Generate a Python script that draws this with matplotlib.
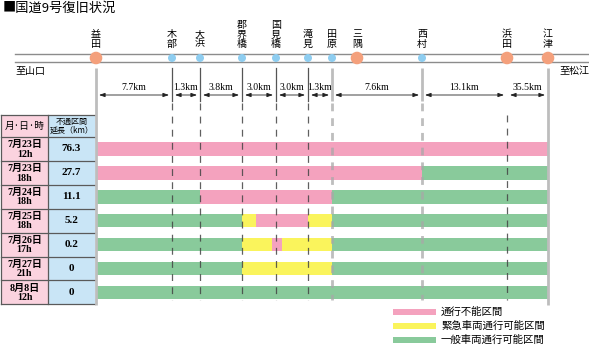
import matplotlib
matplotlib.use("Agg")
import matplotlib.pyplot as plt
from matplotlib.patches import Circle, Rectangle

plt.rcParams['font.family'] = ['Noto Sans CJK JP', 'DejaVu Sans']

# ---------------- data ----------------
title = "■国道9号復旧状況"
stations = ['益田', '木部', '大浜', '郡界橋', '国見橋', '滝見', '田原', '三隅', '西村', '浜田', '江津']
station_x = [96, 172, 200, 242, 276, 308, 332, 357, 422, 507, 548]
major = ['益田', '三隅', '浜田', '江津']

dist_from = ['益田', '木部', '大浜', '郡界橋', '国見橋', '滝見', '田原', '西村', '浜田']
dist_to = ['木部', '大浜', '郡界橋', '国見橋', '滝見', '田原', '西村', '浜田', '江津']
dist_km = [7.7, 1.3, 3.8, 3.0, 3.0, 1.3, 7.6, 13.1, 35.5]

row_dates = ['7月23日\n12h', '7月23日\n18h', '7月24日\n18h', '7月25日\n18h',
             '7月26日\n17h', '7月27日\n21h', '8月8日\n12h']
closed_km = ['76.3', '27.7', '11.1', '5.2', '0.2', '0', '0']

# segments per row: (start position, end position, status)
row_segments = [
    [(96, 548, 'P')],
    [(96, 422, 'P'), (422, 548, 'G')],
    [(96, 200, 'G'), (200, 332, 'P'), (332, 548, 'G')],
    [(96, 242, 'G'), (242, 256, 'Y'), (256, 308, 'P'), (308, 332, 'Y'), (332, 548, 'G')],
    [(96, 242, 'G'), (242, 272, 'Y'), (272, 282, 'P'), (282, 332, 'Y'), (332, 548, 'G')],
    [(96, 242, 'G'), (242, 332, 'Y'), (332, 548, 'G')],
    [(96, 548, 'G')],
]
status_labels = {'P': '通行不能区間', 'Y': '緊急車両通行可能区間', 'G': '一般車両通行可能区間'}
status_colors = {'P': '#F4A2BE', 'Y': '#FAF45C', 'G': '#89CA9B'}

# ---------------- figure ----------------
fig = plt.figure(figsize=(5.89, 3.46), dpi=100)
ax = fig.add_axes([0, 0, 1, 1])
ax.set_xlim(0, 589)
ax.set_ylim(346, 0)
ax.axis('off')

serif = ['Liberation Serif', 'Noto Sans CJK JP']

ax.text(3, 8, title, fontsize=9.5, va='center', ha='left')

# road
ax.plot([15, 589], [54, 54], color='#8c8c8c', lw=1, zorder=2)
ax.plot([15, 589], [62, 62], color='#8c8c8c', lw=1, zorder=2)
ax.text(15, 71, '至山口', fontsize=7.2, va='center', ha='left')
ax.text(559, 71, '至松江', fontsize=7.2, va='center', ha='left')

sx = dict(zip(stations, station_x))
for name, x in zip(stations, station_x):
    if name in major:
        ax.add_patch(Circle((x, 58), 6.3, color='#F4A07C', zorder=3, lw=0))
    else:
        ax.add_patch(Circle((x, 58), 4.0, color='#8ECDF0', zorder=3, lw=0))
    ax.text(x, 48.5, '\n'.join(name), fontsize=7.2, ha='center', va='bottom',
            linespacing=0.88)

# bars
row_h = 23.9
row_top = 137
bar_centers = [row_top + row_h * i + row_h / 2 for i in range(len(row_dates))]
for yc, segs in zip(bar_centers, row_segments):
    for s, e, st in segs:
        ax.barh(yc, e - s, left=s, height=13.5, color=status_colors[st], lw=0, zorder=2)

# vertical lines
dark = ['木部', '大浜', '郡界橋', '国見橋', '滝見']
light = ['田原', '西村']
for name in ['益田', '江津']:
    ax.plot([sx[name]] * 2, [68, 305], color='#bdbdbd', lw=2, zorder=4, solid_capstyle='butt')
for name in dark:
    ax.plot([sx[name]] * 2, [68, 101], color='#555555', lw=0.9, zorder=4)
    ax.plot([sx[name]] * 2, [103, 300], color='#444444', lw=0.9, zorder=4,
            linestyle=(0, (5.5, 5)), alpha=0.85)
for name in light:
    ax.plot([sx[name]] * 2, [68, 101], color='#bdbdbd', lw=2, zorder=4, solid_capstyle='butt')
    ax.plot([sx[name]] * 2, [103, 300], color='#a8a8a8', lw=2, zorder=4,
            linestyle=(0, (2.8, 2.5)), alpha=0.75, solid_capstyle='butt')
ax.plot([sx['浜田']] * 2, [115, 300], color='#444444', lw=0.9, zorder=4,
        linestyle=(0, (5.5, 5)), alpha=0.85)

# distance arrows
for a, b, d in zip(dist_from, dist_to, dist_km):
    x0, x1 = sx[a] + 3, sx[b] - 3
    ax.annotate('', xy=(x1, 95), xytext=(x0, 95),
                arrowprops=dict(arrowstyle='<|-|>,head_length=0.35,head_width=0.12',
                                color='#222222', lw=0.6, shrinkA=0, shrinkB=0))
    ax.text((sx[a] + sx[b]) / 2, 87.5, f'{d}km', fontsize=7, ha='center', va='center',
            family=serif)

# table
tb_top, head_bot = 115, 137
tb_bot = row_top + row_h * len(row_dates)
ax.add_patch(Rectangle((1, tb_top), 47, tb_bot - tb_top, facecolor='#FBD3DF', edgecolor='none', zorder=1))
ax.add_patch(Rectangle((48, tb_top), 47, tb_bot - tb_top, facecolor='#C9E5F6', edgecolor='none', zorder=1))
lc = '#5a5a5a'
for y in [tb_top, head_bot] + [row_top + row_h * (i + 1) for i in range(len(row_dates))]:
    ax.plot([1, 95], [y, y], color=lc, lw=0.9, zorder=2)
for x in [1, 48]:
    ax.plot([x, x], [tb_top, tb_bot], color=lc, lw=0.9, zorder=2)
ax.text(24.5, (tb_top + head_bot) / 2, '月·日·時', fontsize=7, ha='center', va='center')
ax.text(71.5, (tb_top + head_bot) / 2, '不通区間\n延長（km）', fontsize=5.8, ha='center',
        va='center', linespacing=1.0)
for yc, d, k in zip(bar_centers, row_dates, closed_km):
    ax.text(24.5, yc + 0.5, d, fontsize=7.2, ha='center', va='center', family=serif,
            fontweight='bold', linespacing=1.05)
    ax.text(71.5, yc, k, fontsize=8, ha='center', va='center', family=serif,
            fontweight='bold')

# legend
for i, st in enumerate(['P', 'Y', 'G']):
    yc = 312 + 14 * i
    ax.add_patch(Rectangle((393, yc - 3.2), 43, 6.4, facecolor=status_colors[st], lw=0))
    ax.text(441, yc, status_labels[st], fontsize=7.5, ha='left', va='center')

fig.savefig('out.png', dpi=100)
